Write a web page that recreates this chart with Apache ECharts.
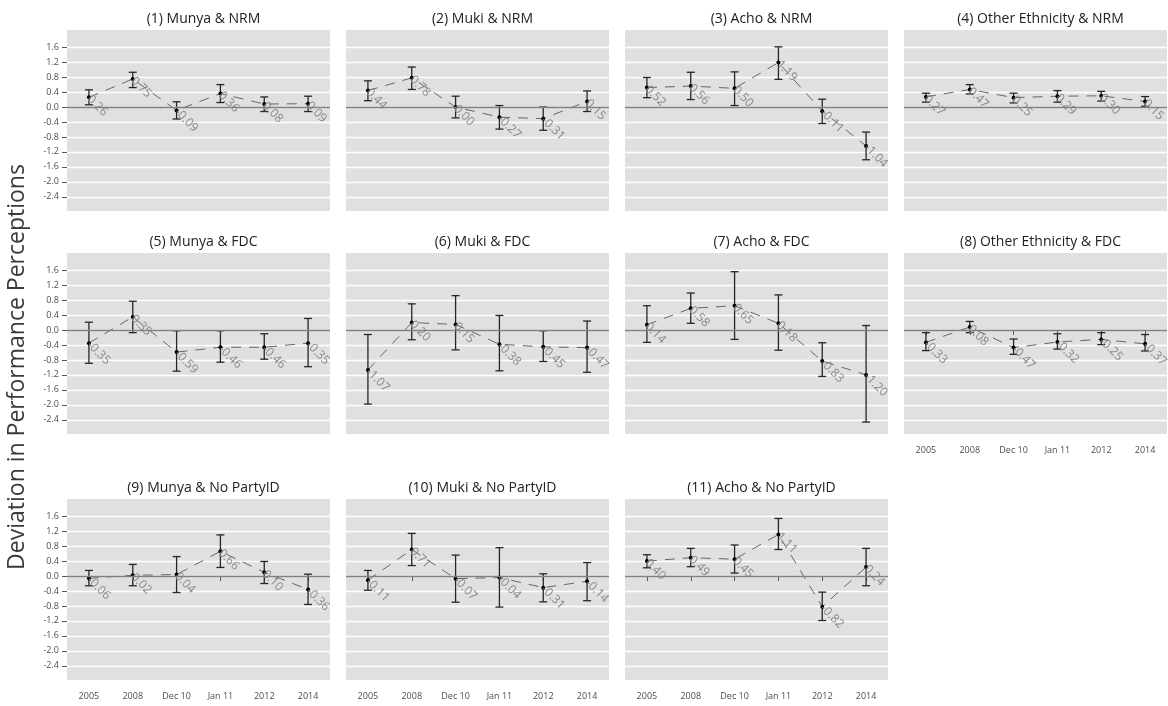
<!DOCTYPE html>
<html><head><meta charset="utf-8">
<script src="https://cdn.jsdelivr.net/npm/echarts@6/dist/echarts.min.js"></script>
<style>html,body{margin:0;padding:0;background:#fff}#c{width:1168px;height:706px}</style>
</head><body><div id="c"></div>
<script>
// ---- data ----
const categories = ['2005', '2008', 'Dec 10', 'Jan 11', '2012', '2014'];
const panelTitles = [
  '(1) Munya & NRM', '(2) Muki & NRM', '(3) Acho & NRM', '(4) Other Ethnicity & NRM',
  '(5) Munya & FDC', '(6) Muki & FDC', '(7) Acho & FDC', '(8) Other Ethnicity & FDC',
  '(9) Munya & No PartyID', '(10) Muki & No PartyID', '(11) Acho & No PartyID'
];
const estimates = [
  [0.26, 0.75, -0.09, 0.36, 0.08, 0.09],
  [0.44, 0.78, 0.00, -0.27, -0.31, 0.15],
  [0.52, 0.56, 0.50, 1.19, -0.11, -1.04],
  [0.27, 0.47, 0.25, 0.29, 0.30, 0.15],
  [-0.35, 0.35, -0.59, -0.46, -0.46, -0.35],
  [-1.07, 0.20, 0.15, -0.38, -0.45, -0.47],
  [0.14, 0.58, 0.65, 0.18, -0.83, -1.20],
  [-0.33, 0.08, -0.47, -0.32, -0.25, -0.37],
  [-0.06, 0.02, 0.04, 0.66, 0.10, -0.36],
  [-0.11, 0.71, -0.07, -0.04, -0.31, -0.14],
  [0.40, 0.49, 0.45, 1.11, -0.82, 0.24]
];
const lowerCI = [
  [0.06, 0.52, -0.32, 0.12, -0.12, -0.12],
  [0.17, 0.47, -0.29, -0.59, -0.62, -0.12],
  [0.25, 0.20, 0.04, 0.74, -0.44, -1.41],
  [0.13, 0.35, 0.11, 0.13, 0.16, 0.02],
  [-0.89, -0.07, -1.10, -0.86, -0.78, -0.98],
  [-1.98, -0.26, -0.53, -1.09, -0.84, -1.13],
  [-0.33, 0.18, -0.25, -0.54, -1.24, -2.46],
  [-0.55, -0.07, -0.65, -0.51, -0.39, -0.56],
  [-0.26, -0.26, -0.44, 0.23, -0.20, -0.76],
  [-0.38, 0.28, -0.70, -0.83, -0.69, -0.66],
  [0.22, 0.25, 0.08, 0.71, -1.19, -0.26]
];
const upperCI = [
  [0.46, 0.93, 0.14, 0.60, 0.27, 0.29],
  [0.70, 1.07, 0.29, 0.04, 0.00, 0.43],
  [0.79, 0.93, 0.94, 1.61, 0.21, -0.67],
  [0.37, 0.60, 0.37, 0.44, 0.42, 0.28],
  [0.21, 0.77, -0.02, -0.02, -0.10, 0.31],
  [-0.12, 0.70, 0.92, 0.39, -0.02, 0.24],
  [0.65, 0.99, 1.56, 0.94, -0.34, 0.12],
  [-0.07, 0.23, -0.24, -0.10, -0.07, -0.12],
  [0.15, 0.31, 0.52, 1.10, 0.39, 0.05],
  [0.15, 1.14, 0.56, 0.76, 0.06, 0.36],
  [0.57, 0.74, 0.83, 1.54, -0.43, 0.74]
];
const yTicks = [-2.4, -2.0, -1.6, -1.2, -0.8, -0.4, 0.0, 0.4, 0.8, 1.2, 1.6];
const yAxisTitle = 'Deviation in Performance Perceptions';

// ---- layout ----
const colLeft = [67, 346, 625, 904];
const rowTop = [30, 253, 499];
const panelW = 263, panelH = 181;
const FONT = '"Open Sans", "Noto Sans", sans-serif';

const grids = [], xAxes = [], yAxes = [], series = [], titles = [];
panelTitles.forEach((t, i) => {
  const r = Math.floor(i / 4), c = i % 4;
  const showY = c === 0;
  const showX = (r === 2) || (i === 7);
  grids.push({left: colLeft[c], top: rowTop[r], width: panelW, height: panelH,
    show: true, backgroundColor: '#e0e0e0', borderWidth: 0, containLabel: false});
  titles.push({text: t, left: colLeft[c] + panelW / 2, top: rowTop[r] - 23, textAlign: 'center',
    textStyle: {fontFamily: FONT, fontSize: 14, fontWeight: 'normal', color: '#222222'}});
  xAxes.push({gridIndex: i, type: 'category', data: categories, boundaryGap: true,
    axisLine: {show: false},
    axisTick: {show: showX, alignWithLabel: true, length: 5, lineStyle: {color: '#555'}},
    axisLabel: {show: showX, fontSize: 9, color: '#4d4d4d', margin: 12, fontFamily: FONT},
    splitLine: {show: false}});
  yAxes.push({gridIndex: i, type: 'value', min: -2.78, max: 2.06,
    axisLine: {show: false},
    axisTick: {show: showY, length: 5, lineStyle: {color: '#555'}, customValues: yTicks},
    axisLabel: {show: showY, customValues: yTicks, fontSize: 9, color: '#4d4d4d', margin: 8,
      fontFamily: FONT, formatter: v => Number(v).toFixed(1)},
    splitLine: {show: true, lineStyle: {color: '#ffffff', width: 1.3}}});
  series.push({type: 'line', xAxisIndex: i, yAxisIndex: i, data: estimates[i], symbol: 'none',
    silent: true, z: 2, lineStyle: {type: [10, 8], color: '#666666', width: 1},
    markLine: {silent: true, symbol: 'none', label: {show: false},
      lineStyle: {type: 'solid', color: '#808080', width: 1.4}, data: [{yAxis: 0}]}});
  series.push({type: 'custom', xAxisIndex: i, yAxisIndex: i, z: 3, silent: true,
    data: estimates[i].map((v, k) => [k, v, lowerCI[i][k], upperCI[i][k]]),
    renderItem: function (params, api) {
      const p = api.coord([api.value(0), api.value(1)]);
      const lo = api.coord([api.value(0), api.value(2)]);
      const hi = api.coord([api.value(0), api.value(3)]);
      const cap = 4;
      const st = {stroke: '#262626', lineWidth: 1.3};
      return {type: 'group', children: [
        {type: 'line', shape: {x1: p[0], y1: hi[1], x2: p[0], y2: lo[1]}, style: st},
        {type: 'line', shape: {x1: p[0] - cap, y1: hi[1], x2: p[0] + cap, y2: hi[1]}, style: st},
        {type: 'line', shape: {x1: p[0] - cap, y1: lo[1], x2: p[0] + cap, y2: lo[1]}, style: st},
        {type: 'circle', shape: {cx: p[0], cy: p[1], r: 2}, style: {fill: '#000'}},
        {type: 'text', x: p[0], y: p[1], rotation: -Math.PI / 4, z2: 10,
          style: {text: api.value(1).toFixed(2), fill: '#888888', fontSize: 12, fontFamily: FONT,
            align: 'left', verticalAlign: 'middle'}}
      ]};
    }});
});

const chart = echarts.init(document.getElementById('c'), null, {renderer: 'canvas'});
chart.setOption({
  animation: false,
  backgroundColor: '#ffffff',
  title: titles,
  grid: grids, xAxis: xAxes, yAxis: yAxes, series: series,
  graphic: [{type: 'text', x: 6, y: 367, rotation: Math.PI / 2,
    style: {text: yAxisTitle, fontSize: 23, fontFamily: FONT, fill: '#3a3a3a',
      align: 'center', verticalAlign: 'top'}}]
});
</script></body></html>
